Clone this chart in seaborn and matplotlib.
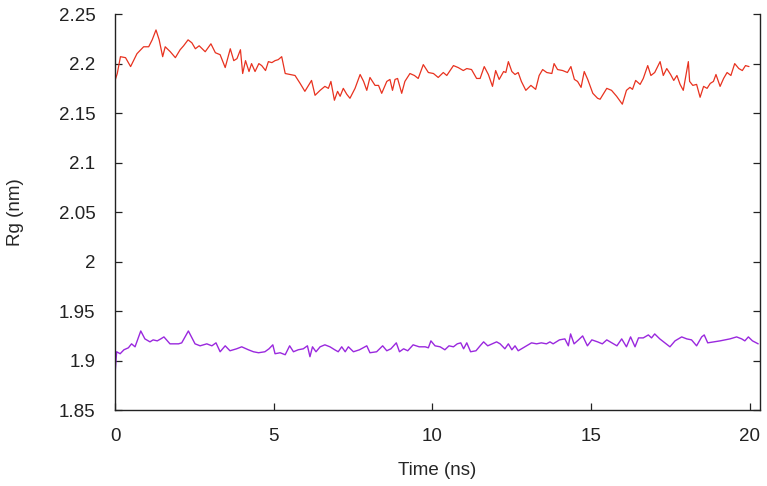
import numpy as np
import pandas as pd
import matplotlib
matplotlib.use("Agg")
import matplotlib.pyplot as plt
import seaborn as sns

# =========================
# Data
# =========================
red_time = [0.0, 0.07, 0.17, 0.33, 0.49, 0.69, 0.90, 1.06, 1.17, 1.29, 1.39, 1.50,
            1.58, 1.74, 1.90, 2.05, 2.16, 2.30, 2.42, 2.53, 2.65, 2.84, 3.02, 3.16,
            3.31, 3.47, 3.63, 3.74, 3.84, 3.95, 4.02, 4.11, 4.22, 4.30, 4.41, 4.53,
            4.62, 4.74, 4.83, 4.94, 5.04, 5.14, 5.25, 5.36, 5.51, 5.67, 5.83, 5.98,
            6.19, 6.30, 6.46, 6.61, 6.72, 6.80, 6.91, 7.01, 7.09, 7.19, 7.30, 7.40,
            7.56, 7.72, 7.83, 7.93, 8.03, 8.19, 8.30, 8.40, 8.56, 8.66, 8.74, 8.82,
            8.90, 9.03, 9.13, 9.29, 9.43, 9.55, 9.71, 9.87, 10.03, 10.18, 10.34, 10.45,
            10.66, 10.81, 10.97, 11.08, 11.23, 11.39, 11.50, 11.63, 11.76, 11.89, 11.99, 12.10,
            12.24, 12.31, 12.39, 12.50, 12.60, 12.70, 12.80, 12.94, 13.10, 13.25, 13.36, 13.47,
            13.60, 13.76, 13.83, 13.94, 14.10, 14.25, 14.36, 14.47, 14.57, 14.68, 14.78, 14.89,
            15.05, 15.20, 15.28, 15.49, 15.64, 15.80, 15.98, 16.11, 16.22, 16.30, 16.40, 16.54,
            16.64, 16.78, 16.88, 17.00, 17.17, 17.27, 17.38, 17.50, 17.60, 17.70, 17.80, 17.90,
            18.06, 18.10, 18.20, 18.32, 18.43, 18.54, 18.65, 18.75, 18.85, 18.93, 19.06, 19.17,
            19.28, 19.40, 19.52, 19.65, 19.76, 19.86, 19.97]
red_rg = [2.183, 2.190, 2.207, 2.206, 2.197, 2.210, 2.217, 2.217, 2.224, 2.234, 2.224, 2.207,
          2.217, 2.212, 2.206, 2.214, 2.218, 2.224, 2.221, 2.215, 2.218, 2.212, 2.220, 2.211,
          2.209, 2.196, 2.215, 2.203, 2.205, 2.214, 2.190, 2.203, 2.192, 2.200, 2.192, 2.200,
          2.198, 2.193, 2.202, 2.201, 2.203, 2.204, 2.207, 2.190, 2.189, 2.188, 2.180, 2.172,
          2.183, 2.168, 2.173, 2.177, 2.175, 2.182, 2.163, 2.172, 2.167, 2.175, 2.169, 2.165,
          2.175, 2.189, 2.182, 2.173, 2.186, 2.178, 2.178, 2.170, 2.182, 2.184, 2.173, 2.184,
          2.185, 2.170, 2.182, 2.190, 2.188, 2.185, 2.199, 2.191, 2.190, 2.186, 2.191, 2.188,
          2.198, 2.196, 2.193, 2.195, 2.194, 2.185, 2.185, 2.197, 2.189, 2.177, 2.193, 2.184,
          2.192, 2.191, 2.202, 2.192, 2.189, 2.191, 2.182, 2.173, 2.178, 2.174, 2.188, 2.194,
          2.191, 2.190, 2.200, 2.194, 2.193, 2.191, 2.197, 2.184, 2.182, 2.176, 2.192, 2.184,
          2.170, 2.165, 2.164, 2.175, 2.173, 2.167, 2.159, 2.173, 2.176, 2.174, 2.183, 2.179,
          2.185, 2.198, 2.188, 2.191, 2.202, 2.188, 2.195, 2.189, 2.183, 2.188, 2.179, 2.173,
          2.202, 2.182, 2.178, 2.179, 2.166, 2.177, 2.175, 2.180, 2.182, 2.189, 2.177, 2.185,
          2.191, 2.188, 2.200, 2.195, 2.193, 2.198, 2.197]

purple_time = [0.0, 0.05, 0.16, 0.28, 0.42, 0.52, 0.63, 0.81, 0.94, 1.10, 1.20, 1.33,
               1.44, 1.54, 1.73, 2.00, 2.10, 2.31, 2.52, 2.68, 2.89, 3.05, 3.18, 3.31,
               3.47, 3.62, 3.83, 3.99, 4.20, 4.36, 4.52, 4.72, 4.85, 4.97, 5.04, 5.20,
               5.36, 5.50, 5.62, 5.77, 5.93, 6.06, 6.14, 6.22, 6.33, 6.46, 6.61, 6.77,
               6.92, 7.03, 7.14, 7.25, 7.35, 7.51, 7.70, 7.93, 8.03, 8.24, 8.43, 8.56,
               8.69, 8.86, 8.96, 9.09, 9.22, 9.39, 9.58, 9.77, 9.87, 9.95, 10.08, 10.24,
               10.39, 10.52, 10.66, 10.78, 10.89, 10.98, 11.08, 11.20, 11.37, 11.50, 11.61, 11.74,
               11.88, 12.02, 12.13, 12.28, 12.39, 12.50, 12.60, 12.70, 12.91, 13.12, 13.28, 13.43,
               13.59, 13.70, 13.80, 14.00, 14.17, 14.28, 14.35, 14.46, 14.60, 14.73, 14.88, 15.02,
               15.20, 15.35, 15.49, 15.65, 15.81, 15.96, 16.11, 16.24, 16.38, 16.49, 16.64, 16.80,
               16.90, 17.00, 17.16, 17.32, 17.48, 17.64, 17.85, 18.01, 18.16, 18.32, 18.48, 18.56,
               18.67, 18.86, 19.06, 19.21, 19.37, 19.58, 19.74, 19.84, 19.95, 20.08, 20.26]
purple_rg = [1.887, 1.909, 1.907, 1.911, 1.913, 1.917, 1.914, 1.930, 1.922, 1.919, 1.921, 1.920,
             1.922, 1.924, 1.917, 1.917, 1.918, 1.930, 1.917, 1.915, 1.917, 1.915, 1.918, 1.909,
             1.915, 1.910, 1.912, 1.914, 1.911, 1.909, 1.908, 1.909, 1.912, 1.916, 1.907, 1.908,
             1.906, 1.915, 1.909, 1.911, 1.912, 1.915, 1.904, 1.914, 1.909, 1.914, 1.916, 1.914,
             1.911, 1.909, 1.914, 1.909, 1.914, 1.909, 1.911, 1.915, 1.908, 1.909, 1.915, 1.910,
             1.912, 1.918, 1.909, 1.912, 1.910, 1.916, 1.914, 1.914, 1.913, 1.920, 1.915, 1.914,
             1.911, 1.915, 1.914, 1.917, 1.918, 1.912, 1.918, 1.909, 1.910, 1.915, 1.919, 1.915,
             1.917, 1.919, 1.917, 1.912, 1.917, 1.911, 1.915, 1.910, 1.914, 1.918, 1.917, 1.918,
             1.917, 1.919, 1.917, 1.921, 1.922, 1.915, 1.927, 1.917, 1.921, 1.925, 1.915, 1.921,
             1.919, 1.917, 1.921, 1.918, 1.915, 1.922, 1.914, 1.924, 1.914, 1.923, 1.923, 1.926,
             1.923, 1.927, 1.922, 1.918, 1.914, 1.920, 1.924, 1.922, 1.921, 1.915, 1.924, 1.926,
             1.918, 1.919, 1.920, 1.921, 1.922, 1.924, 1.922, 1.920, 1.924, 1.920, 1.917]

y_ticks = [1.85, 1.9, 1.95, 2.0, 2.05, 2.1, 2.15, 2.2, 2.25]
x_ticks = [0, 5, 10, 15, 20]

df_red = pd.DataFrame({"time": red_time, "rg": red_rg})
df_purple = pd.DataFrame({"time": purple_time, "rg": purple_rg})

# =========================
# Style
# =========================
sns.set_style("ticks")
plt.rcParams["font.family"] = ["Liberation Sans", "DejaVu Sans"]
plt.rcParams["font.size"] = 13.5

fig = plt.figure(figsize=(7.67, 4.86), dpi=100)
ax = fig.add_axes([0.150, 0.156, 0.841, 0.815])

sns.lineplot(data=df_red, x="time", y="rg", color="#e8321f", linewidth=0.9,
             ax=ax, estimator=None, sort=False)
sns.lineplot(data=df_purple, x="time", y="rg", color="#9a28de", linewidth=1.0,
             ax=ax, estimator=None, sort=False)

ax.set_xlim(0, 20.32)
ax.set_ylim(1.85, 2.25)
ax.set_xticks(x_ticks)
ax.set_yticks(y_ticks)
ax.set_xticklabels([f"{v:g}" for v in x_ticks])
ax.set_yticklabels([f"{v:g}" for v in y_ticks])

ax.set_xlabel("Time (ns)", fontsize=13.5, labelpad=12)
ax.set_ylabel("Rg (nm)", fontsize=13.5, labelpad=25)

# gnuplot-like frame: no top border, mirrored ticks on the right
ax.spines["top"].set_visible(False)
for side in ["left", "bottom", "right"]:
    ax.spines[side].set_visible(True)
    ax.spines[side].set_color("#222222")
    ax.spines[side].set_linewidth(1.0)
ax.tick_params(direction="in", length=5, width=0.9, colors="#222222",
               labelcolor="#222222", right=True, top=False, labelsize=13.5)
ax.tick_params(axis="x", pad=13)
ax.tick_params(axis="y", pad=14)

fig.savefig("out.png", dpi=100)
